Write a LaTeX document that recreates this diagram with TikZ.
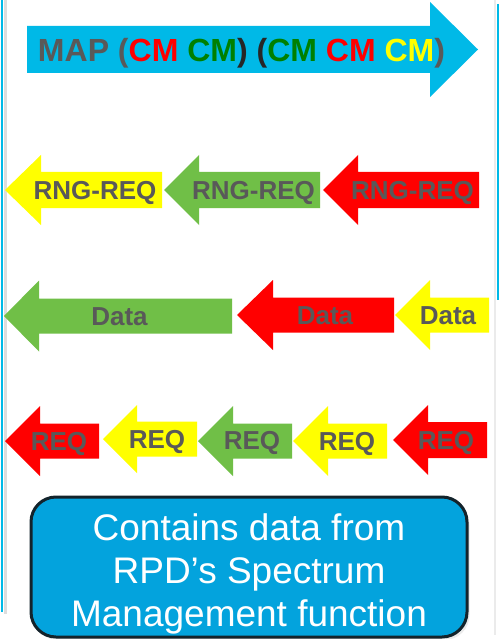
\documentclass[tikz,border=0pt]{standalone}
\usepackage{fontspec}
\setmainfont{Liberation Sans}
\definecolor{arrcyan}{HTML}{00B9E7}
\definecolor{boxblue}{HTML}{03A3DD}
\definecolor{boxedge}{HTML}{13232B}
\definecolor{agreen}{HTML}{70BF47}
\definecolor{ayellow}{HTML}{FFFF00}
\definecolor{ared}{HTML}{FF0000}
\definecolor{tgray}{HTML}{595959}
\definecolor{tdark}{HTML}{262626}
\definecolor{dgreen}{HTML}{008000}
\definecolor{shadowgray}{HTML}{DDDDDD}
\definecolor{softgray}{HTML}{EBEBEB}
% tip x, head-base x, right x, centre y, head half-height, body half-height, colour
\newcommand\myLArrow[7]{%
  \fill[#7] (#1,#4) -- (#2,#4-#5) -- (#2,#4-#6) -- (#3,#4-#6) -- (#3,#4+#6)
    -- (#2,#4+#6) -- (#2,#4+#5) -- cycle;}
\begin{document}
\begin{tikzpicture}[x=1pt,y=-1pt,
  lbl/.style={anchor=base,inner sep=0pt,text=tgray,font=\bfseries\fontsize{26}{26}\selectfont},
  boxtxt/.style={anchor=base,inner sep=0pt,text=white,font=\fontsize{37}{37}\selectfont},
  infobox/.style={draw=boxedge,line width=3pt,fill=boxblue,rounded corners=25pt}]
\useasboundingbox (0,0) rectangle (499,639);
\fill[white] (0,0) rectangle (499,639);
% side lines
\draw[shadowgray,line width=3pt] (5.5,0) -- (5.5,614);
\draw[arrcyan,line width=2.5pt] (2,0) -- (2,612);
\draw[softgray,line width=2pt] (495,0) -- (495,635);
\draw[arrcyan,line width=2pt] (497.5,4) -- (497.5,300);
% top arrow
\fill[arrcyan] (27,26) -- (430,26) -- (430,2) -- (478,49.5) -- (430,97) -- (430,73) -- (27,73) -- cycle;
\node[anchor=base,inner sep=0pt,font=\bfseries\fontsize{32}{32}\selectfont] (map) at (241.5,62)
  {\color{tgray}MAP (\color{ared}CM \color{dgreen}CM\color{tdark}) (\color{dgreen}CM \color{ared}CM \color{ayellow}CM\color{tgray})};
% row 2
\myLArrow{5}{41}{162}{190}{35}{18}{ayellow}
\myLArrow{164}{199}{320}{190}{35}{18}{agreen}
\myLArrow{323}{358}{479}{190}{35}{18}{ared}
\node[lbl] (r1) at (95,199) {RNG-REQ};
\node[lbl] (r2) at (253.5,199) {RNG-REQ};
\node[lbl] (r3) at (412.5,199) {RNG-REQ};
% row 3
\myLArrow{4}{39}{232}{316}{35.5}{17.5}{agreen}
\myLArrow{237}{273}{394}{315}{35}{17.5}{ared}
\myLArrow{395}{430}{489}{315}{35}{17.5}{ayellow}
\node[lbl] (d1) at (119.5,325) {Data};
\node[lbl] (d2) at (325,324) {Data};
\node[lbl] (d3) at (448,324) {Data};
% row 4
\myLArrow{5}{40}{99}{441}{35}{17.5}{ared}
\myLArrow{103}{137}{197}{439}{34}{17.5}{ayellow}
\myLArrow{198}{233}{292}{441}{35}{17.5}{agreen}
\myLArrow{293}{328}{387}{441}{35}{17.5}{ayellow}
\myLArrow{393}{428}{487}{440}{35}{18}{ared}
\node[lbl] (q1) at (59,450) {REQ};
\node[lbl] (q2) at (157,448) {REQ};
\node[lbl] (q3) at (252,449) {REQ};
\node[lbl] (q4) at (347,450) {REQ};
\node[lbl] (q5) at (446,449) {REQ};
% info box
\fill[softgray,rounded corners=25pt] (33,500) rectangle (469.5,640);
\draw[infobox] (31,497) rectangle (467,637);
\node[boxtxt] (b1) at (249,540) {Contains data from};
\node[boxtxt] (b2) at (249,583) {RPD’s Spectrum};
\node[boxtxt] (b3) at (249,626) {Management function};
\end{tikzpicture}
\end{document}
